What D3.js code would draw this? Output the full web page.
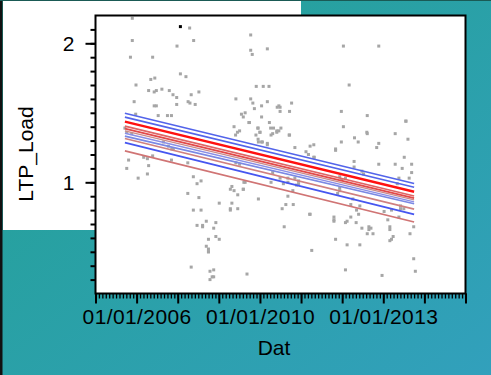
<!DOCTYPE html>
<html><head><meta charset="utf-8">
<script src="https://cdn.jsdelivr.net/npm/d3@7"></script>
<style>html,body{margin:0;padding:0;overflow:hidden;background:#fff}svg{display:block}</style>
</head><body>
<svg id="chart" width="491" height="375"></svg>
<script>
// ---- data (x in decimal years, y = LTP_Load) ----
const xTickValues = [2006, 2010, 2013];
const xTickLabels = ["01/01/2006", "01/01/2010", "01/01/2013"];
const yTickValues = [1, 2];
const yTickLabels = ["1", "2"];
const xTitle = "Dat";
const yTitle = "LTP_Load";

const pointX = [
2005.86,2007.72,2005.86,2007.85,2007.31,2009.70,2009.70,2009.75,2010.18,2005.80,2006.52,
2007.42,2007.60,2006.46,2006.59,2005.98,2009.88,2010.08,2010.22,
2006.39,2006.57,2006.64,2006.82,2007.06,2007.18,2007.30,2007.77,2008.02,
2005.92,2007.30,2007.67,2007.73,2007.90,
2009.22,2009.70,2009.77,2010.04,2009.82,2010.18,2010.42,2010.46,
2006.57,2006.64,2006.70,2007.00,2007.13,2005.97,
2009.40,2009.46,2009.52,2010.04,2009.64,2010.23,2009.16,
2009.27,2009.34,2009.21,2009.94,2010.00,2009.94,2010.27,2010.41,2010.46,
2009.95,2010.04,2010.18,2005.62,2005.68,
2012.03,2012.89,2012.17,2010.77,2010.49,2010.49,2010.72,2011.98,2012.61,2013.55,
2010.51,2012.03,2010.72,2012.61,2013.29,2013.60,2012.30,2012.39,2011.98,2011.31,2011.22,
2012.89,2012.84,2010.85,2011.84,2011.12,
2009.66,2009.93,2010.00,2009.87,2010.26,2010.33,2010.41,2010.31,2010.71,2012.60,2013.55,
2010.06,2010.18,2011.18,2011.32,2005.84,2007.03,2007.19,2007.14,
2011.18,2011.31,2011.84,2013.51,2012.89,2013.29,2013.69,2012.29,2012.29,2013.46,
2012.48,2012.52,2013.69,2011.94,2012.08,2011.99,2013.63,2013.38,2013.34,
2010.49,2010.68,2010.68,2010.57,2010.85,2010.94,2010.94,2010.89,2010.80,2010.68,
2011.94,2011.94,2011.89,2012.26,2010.63,2010.81,2010.54,2012.21,2012.43,2012.35,2012.40,
2011.21,2011.22,2013.42,2013.42,2013.50,2013.02,2013.11,2013.20,2013.38,
2011.80,2011.80,2011.80,2012.08,2012.12,2012.21,2012.34,2012.65,2012.65,2012.70,2012.48,
2013.16,2013.16,2013.74,2012.61,2012.75,2013.65,2013.24,2013.20,2013.16,2010.59,2011.84,
2012.12,2012.43,2011.26,2013.74,2012.08,2012.97,2013.78,
2005.74,2005.68,2006.23,2006.35,2006.52,2006.39,2006.35,2006.05,2007.13,2007.66,
2007.84,2007.96,2008.09,2007.66,2008.02,2007.84,2008.09,2007.96,2008.14,2008.14,2008.26,2008.57,
2008.50,2008.33,2008.57,2008.68,2008.26,2008.33,2008.33,2008.33,2009.09,2009.04,2009.04,2009.28,
2008.68,2009.28,2009.95,2009.46,2009.04,2009.16,2009.09,2009.52,2007.77,2008.38,2008.50,
2008.45,2008.50,2008.38,2009.58,2009.34,2010.31,2010.27,2009.22,2006.87,2009.48,2009.46
];
const pointY = [
2.18,2.11,2.02,2.02,1.98,2.06,1.95,1.92,1.96,1.90,1.90,
1.78,1.76,1.74,1.75,1.70,1.69,1.69,1.69,
1.66,1.65,1.66,1.67,1.66,1.63,1.61,1.63,1.65,
1.58,1.56,1.58,1.57,1.56,
1.60,1.60,1.57,1.55,1.53,1.58,1.54,1.55,
1.55,1.55,1.48,1.48,1.48,1.49,
1.49,1.47,1.50,1.47,1.43,1.43,1.40,
1.36,1.37,1.34,1.39,1.36,1.31,1.34,1.37,1.37,
1.29,1.29,1.28,1.39,1.36,
1.98,1.98,1.70,1.57,1.54,1.51,1.51,1.51,1.48,1.44,
1.39,1.40,1.34,1.35,1.35,1.31,1.32,1.29,1.29,1.27,1.26,
1.28,1.25,1.25,1.24,1.22,
1.43,1.39,1.36,1.34,1.39,1.39,1.36,1.35,1.34,1.36,1.44,
1.29,1.27,1.20,1.18,1.35,1.26,1.24,1.24,
1.20,1.18,1.23,1.18,1.13,1.13,1.13,1.15,1.11,1.10,
1.08,1.06,1.07,1.04,1.03,1.02,1.03,1.03,0.99,
1.03,1.03,1.00,0.99,1.03,1.01,0.99,0.98,0.94,0.90,
0.96,0.94,0.92,0.88,0.84,0.84,0.81,0.84,0.83,0.80,0.77,
0.77,0.77,0.83,0.81,0.81,0.79,0.73,0.80,0.75,
0.75,0.73,0.72,0.71,0.72,0.75,0.71,0.68,0.66,0.67,0.67,
0.68,0.66,0.68,0.63,0.63,0.63,0.61,0.59,0.58,0.68,0.59,
0.55,0.55,0.51,0.45,0.37,0.33,0.36,
1.16,1.10,1.18,1.17,1.19,1.12,1.06,1.03,1.16,1.14,
1.04,0.99,1.01,0.92,0.89,0.80,0.80,0.69,0.69,0.68,0.72,0.71,
0.67,0.59,0.61,0.59,0.54,0.52,0.50,0.50,0.85,0.81,0.80,0.81,
0.85,0.91,0.88,0.95,0.95,0.94,0.97,1.00,0.39,0.36,0.37,
0.32,0.32,0.30,0.34,1.13,1.07,1.00,1.14,1.29,1.00,0.95
];
const highlightX = [2007.42];
const highlightY = [2.12];

// fit lines: start/end in data units
const lineX0 = [2005.62,2005.62,2005.62,2005.62,2005.62,2005.62,2005.62,2005.62,2005.62,2005.62,2005.62];
const lineX1 = [2013.75,2013.75,2013.75,2013.75,2013.75,2013.75,2013.75,2013.75,2013.75,2013.75,2013.75];
const lineY0 = [1.497,1.469,1.436,1.404,1.387,1.370,1.353,1.332,1.315,1.285,1.226];
const lineY1 = [0.991,0.964,0.932,0.901,0.887,0.874,0.859,0.846,0.807,0.769,0.715];
const lineColors = ["#5364ea","#5364ea","#ff1010","#e06464","#e24a4a","#c98a8a","#8a8ee6","#7a88e4","#d08080","#4656f0","#d07474"];
const lineWidths = [1.6,1.6,2.4,1.6,1.8,1.4,1.4,1.6,1.6,1.8,1.6];

// ---- layout ----
const svg = d3.select("#chart");
const W = 491, H = 375;
const L = 95.5, T = 15.5, R = 465.5, B = 293.5;
const pw = R - L;
const FONT = "Liberation Sans, Arial, Helvetica, sans-serif";

const defs = svg.append("defs");
const grad = defs.append("linearGradient").attr("id","bg").attr("x1","0").attr("y1","0").attr("x2","1").attr("y2","1");
grad.append("stop").attr("offset","0").attr("stop-color","#22a193");
grad.append("stop").attr("offset","1").attr("stop-color","#32a0bc");
svg.append("rect").attr("width",W).attr("height",H).attr("fill","url(#bg)");
svg.append("rect").attr("x",3).attr("y",1).attr("width",298).attr("height",229).attr("fill","#fff");
svg.append("rect").attr("x",0).attr("y",0).attr("width",2.5).attr("height",H).attr("fill","#111");
svg.append("rect").attr("x",0).attr("y",0).attr("width",W).attr("height",1).attr("fill","#1a5a55");

svg.append("rect").attr("x",L).attr("y",T).attr("width",pw).attr("height",B-T).attr("fill","#fff");

// scales
const x = d3.scaleLinear()
  .domain([2004.6667, 2006, 2010, 2013, 2015])
  .range([0,1,4,7,9].map(k => L + k*pw/9));
const y = d3.scaleLinear().domain([0.2, 2.2]).range([B, T]);

// clip
defs.append("clipPath").attr("id","clip").append("rect").attr("x",L).attr("y",T).attr("width",pw).attr("height",B-T);
const g = svg.append("g").attr("clip-path","url(#clip)");

// points
const pts = pointX.map((d,i)=>({x:d,y:pointY[i]}));
g.selectAll("rect.pt").data(pts).enter().append("rect").attr("class","pt")
  .attr("x",d=>x(d.x)-1.5).attr("y",d=>y(d.y)-1.5).attr("width",3).attr("height",3).attr("fill","#a6a6a6");
const hl = highlightX.map((d,i)=>({x:d,y:highlightY[i]}));
g.selectAll("rect.hl").data(hl).enter().append("rect").attr("class","hl")
  .attr("x",d=>x(d.x)-1.5).attr("y",d=>y(d.y)-1.5).attr("width",3).attr("height",3).attr("fill","#000");

// lines
const lineGen = d3.line().x(d=>x(d[0])).y(d=>y(d[1]));
const lines = lineY0.map((v,i)=>({pts:[[lineX0[i],v],[lineX1[i],lineY1[i]]],c:lineColors[i],w:lineWidths[i]}));
const order = [9,10,8,7,6,5,4,3,1,0,2];
order.forEach(i=>{
  g.append("path").attr("d",lineGen(lines[i].pts)).attr("fill","none")
   .attr("stroke",lines[i].c).attr("stroke-width",lines[i].w);
});

// frame
svg.append("rect").attr("x",L).attr("y",T).attr("width",pw).attr("height",B-T)
  .attr("fill","none").attr("stroke","#000").attr("stroke-width",2);

// y axis
const yMinor = d3.range(3, 22).map(k => k/10);
const yAx = svg.append("g").attr("transform",`translate(${L},0)`);
yAx.call(d3.axisLeft(y).tickValues(yMinor).tickSize(5).tickFormat(""));
yAx.append("g").call(d3.axisLeft(y).tickValues(yTickValues).tickSize(10).tickFormat((d,i)=>yTickLabels[i]));
yAx.selectAll(".domain").remove();
yAx.selectAll("line").attr("stroke","#000").attr("stroke-width",2);
yAx.selectAll("text").attr("font-family",FONT).attr("font-size",21)
  .attr("fill","#000").attr("x",-21).attr("dy","0.36em");

// x axis
const xMajor = d3.range(0,10).map(k => x.invert(L + k*pw/9));
const xMinor = d3.range(0,109).map(k => x.invert(L + k*pw/108));
const xAx = svg.append("g").attr("transform",`translate(0,${B})`);
xAx.call(d3.axisBottom(x).tickValues(xMinor).tickSize(5).tickFormat(""));
xAx.selectAll("line").attr("stroke","#000").attr("stroke-width",1.3);
const xAx2 = xAx.append("g");
xAx2.call(d3.axisBottom(x).tickValues(xMajor).tickSize(10).tickFormat(""));
xAx2.selectAll("line").attr("stroke","#000").attr("stroke-width",2);
const xAx3 = xAx.append("g");
xAx3.call(d3.axisBottom(x).tickValues(xTickValues).tickSize(0).tickFormat((d,i)=>xTickLabels[i]));
xAx.selectAll(".domain").remove();
xAx3.selectAll("text").attr("font-family",FONT).attr("font-size",21)
  .attr("fill","#000").attr("y",30).attr("dy","0").attr("letter-spacing","0.4px");

// titles
svg.append("text").attr("x",274).attr("y",355).attr("text-anchor","middle")
  .attr("font-family",FONT).attr("font-size",21).attr("fill","#000").text(xTitle);
svg.append("text").attr("transform","translate(33,154) rotate(-90)").attr("text-anchor","middle")
  .attr("font-family",FONT).attr("font-size",21).attr("fill","#000").text(yTitle);
</script>
</body></html>
